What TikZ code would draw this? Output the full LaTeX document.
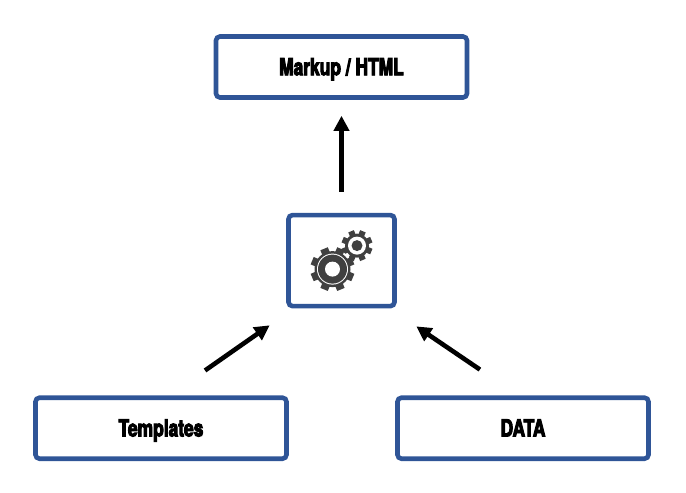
\documentclass[tikz,border=0pt]{standalone}
\usepackage{fontspec}
\newfontfamily\labelfont[FakeBold=4,FakeStretch=0.74]{TeX Gyre Heros Bold}
\usepackage{tikz}
\usetikzlibrary{arrows.meta,calc,positioning}
\definecolor{boxblue}{HTML}{2F5597}
\definecolor{geargray}{HTML}{404040}

% one gear: #1 centre, #2 body radius, #3 tooth height, #4 tooth width
\newcommand{\geartoothed}[4]{
    \fill[geargray] (#1) circle (#2);
    \foreach \ang in {0,45,...,315}
        \fill[geargray, shift={(#1)}, rotate=\ang+22.5] (#2-1,-#4/2) rectangle (#2+#3,#4/2);
}

\begin{document}
\begin{tikzpicture}[
    x=1pt, y=1pt,
    every node/.style={font=\labelfont\fontsize{23.5}{28}\selectfont},
    widebox/.style={rectangle, draw=boxblue, line width=4.6pt, rounded corners=4pt, fill=white, minimum width=251pt, minimum height=61pt, text height=16.5pt, text depth=0pt, align=center},
    enginebox/.style={widebox, minimum width=106pt, minimum height=91pt},
    arr/.style={-{Triangle[length=15pt,width=15pt]}, line width=4.6pt, black}
]
    \useasboundingbox (0,0) rectangle (686,-493);

    \node[widebox] (markup) at (341.5,-67) {Markup / HTML};
    \node[enginebox, below=113pt of markup] (engine) {};
    \node[widebox, below=87pt of engine, xshift=-180.5pt] (templates) {Templates};
    \node[widebox, below=87pt of engine, xshift=181.5pt] (data) {DATA};

    % gears inside the middle box
    \coordinate (biggear) at ($(engine.center)+(-9,-8.5)$);
    \coordinate (smallgear) at ($(engine.center)+(15.5,15)$);
    \geartoothed{smallgear}{12}{3.5}{6}
    \fill[white] (smallgear) circle (9);
    \fill[geargray] (smallgear) circle (5.5);
    \fill[white] (biggear) circle (20);
    \geartoothed{biggear}{18}{4}{8}
    \fill[white] (biggear) circle (15.5);
    \fill[geargray] (biggear) circle (14.5);
    \fill[white] (biggear) circle (7.5);

    \draw[arr, shorten <=21pt, shorten >=16pt] (engine.north) -- (markup.south);
    \draw[arr, shorten <=43.5pt, shorten >=29.5pt] ([xshift=8.4pt]templates.north) -- ([xshift=7.6pt]engine.south west);
    \draw[arr, shorten <=46pt, shorten >=32pt] ([xshift=-5pt]data.north) -- ([xshift=-7pt]engine.south east);
\end{tikzpicture}
\end{document}
